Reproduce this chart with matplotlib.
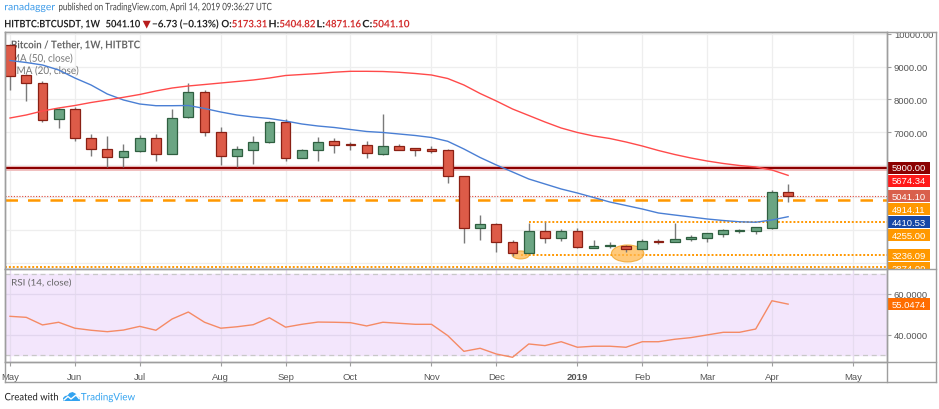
import numpy as np
import pandas as pd
import matplotlib
matplotlib.use('Agg')
import matplotlib.pyplot as plt
from matplotlib.font_manager import FontProperties
from matplotlib.patches import Ellipse, Rectangle, Polygon, PathPatch
from matplotlib.textpath import TextPath
from matplotlib.transforms import Affine2D

plt.rcParams['font.family'] = ['Liberation Sans', 'DejaVu Sans']

# weekly BTC/USDT candles, week of 2018-05-07 .. 2019-04-08
opens = [9671, 8744, 8500, 7389, 7704, 6808, 6472, 6236, 6420, 6808,
         6328, 7450, 8215, 6992, 6258, 6460, 6686, 7298, 6215, 6460,
         6716, 6634, 6594, 6328, 6564, 6490, 6481, 6450, 5665, 4056,
         4187, 3628, 3291, 3964, 3769, 3983, 3463, 3514, 3524, 3423,
         3677, 3628, 3720, 3769, 3891, 3964, 3964, 4065, 5173.31]
highs = [9700, 8780, 8570, 7735, 7756, 6931, 6869, 6625, 6909, 6931,
         7704, 8499, 8294, 7145, 6582, 6869, 7328, 7398, 6480, 6839,
         6827, 6704, 6716, 7551, 6634, 6500, 6582, 6481, 5665, 4463,
         4208, 3707, 4218, 4239, 4035, 4056, 3707, 3628, 3545, 3729,
         3720, 4209, 3850, 3922, 4035, 4035, 4105, 5236, 5404.82]
lows = [8285, 7958, 7316, 7114, 6735, 6276, 5921, 5921, 6398, 6123,
        6328, 7420, 6888, 6001, 5921, 6022, 6660, 6123, 6195, 6123,
        6349, 6460, 6206, 6307, 6440, 6258, 6349, 5432, 3606, 3707,
        3322, 3218, 3291, 3597, 3677, 3460, 3463, 3454, 3322, 3423,
        3567, 3628, 3677, 3652, 3799, 3912, 3882, 4045, 4871.16]
closes = [8723, 8490, 7377, 7704, 6808, 6472, 6246, 6411, 6808, 6328,
          7429, 8215, 7010, 6276, 6481, 6686, 7298, 6215, 6460, 6704,
          6612, 6594, 6350, 6564, 6460, 6460, 6429, 5665, 4065, 4187,
          3628, 3291, 3964, 3769, 3983, 3475, 3524, 3524, 3423, 3658,
          3637, 3729, 3780, 3903, 3995, 3995, 4087, 5157, 5041.10]

ema20 = [9187, 9126, 9050, 8897, 8652, 8438, 8163, 7980, 7857, 7805,
         7805, 7811, 7720, 7612, 7521, 7460, 7414, 7337, 7246, 7184,
         7139, 7077, 7016, 6986, 6940, 6894, 6833, 6717, 6481, 6221,
         5992, 5778, 5564, 5411, 5258, 5135, 4998, 4860, 4753, 4646,
         4524, 4462, 4402, 4341, 4294, 4255, 4241, 4310, 4410.53]
ma50 = [7429, 7521, 7643, 7735, 7811, 7903, 7980, 8062, 8148, 8255,
        8346, 8408, 8453, 8499, 8545, 8591, 8652, 8729, 8759, 8790,
        8830, 8857, 8857, 8851, 8827, 8790, 8744, 8637, 8438, 8178,
        7949, 7704, 7506, 7307, 7123, 6986, 6879, 6802, 6695, 6573,
        6435, 6313, 6206, 6114, 6038, 5976, 5931, 5839, 5674.34]
rsi = [49.1, 48.6, 44.9, 46.2, 43.3, 42.3, 41.6, 42.4, 44.2, 42.3,
       47.8, 51.2, 46.2, 43.3, 44.0, 45.0, 48.4, 43.8, 45.2, 46.3,
       46.2, 46.0, 44.4, 46.2, 45.7, 45.2, 45.2, 39.7, 32.0, 33.5,
       30.7, 29.1, 35.6, 34.8, 36.7, 34.0, 34.5, 34.5, 34.0, 36.7,
       36.7, 37.9, 38.7, 40.0, 41.3, 41.3, 42.9, 56.7, 55.0474]

resistance = 5900.00
breakout = 4914.11
range_top = 4255.00
range_bottom = 3236.09
cycle_low = 2874.00
price_ticks = [7000, 8000, 9000, 10000]

W, H = 939, 410
def fx(px): return px / W
def fy(py): return 1 - py / H

fig = plt.figure(figsize=(W / 100, H / 100), dpi=100)
fig.patch.set_facecolor('white')

# text drawn as paths, squeezed to the width it takes in the screenshot
def ptext(s, x0, x1, ybase, size, color, weight='normal', parent=None, z=10):
    prop = FontProperties(family=['Lato', 'DejaVu Sans'], weight=weight)
    tp = TextPath((0, 0), s, size=size, prop=prop)
    ext = tp.get_extents()
    sx = (x1 - x0) / (ext.x1 - ext.x0)
    tr = Affine2D().translate(-ext.x0, 0).scale(sx, 1).translate(x0, H - ybase)
    p = PathPatch(tp, transform=tr, facecolor=color, edgecolor='none', lw=0, zorder=z)
    (parent or fig).add_artist(p)
    return p

dates = pd.date_range('2018-05-07', periods=53, freq='7D')
xi = np.arange(len(closes))
mstart = [i for i in range(len(dates)) if i == 0 or dates[i].month != dates[i - 1].month]
mlabels = ['2019' if dates[i].month == 1 else dates[i].strftime('%b') for i in mstart]

frame = '#9e9e9e'
gridc = '#eeeeee'
txtc = '#555555'

ax = fig.add_axes([fx(5), fy(270), fx(887) - fx(5), fy(33) - fy(270)])
rx = fig.add_axes([fx(5), fy(363), fx(887) - fx(5), fy(270) - fy(363)])
for a in (ax, rx):
    a.set_xlim(-0.31, 54.1)
    for s in a.spines.values():
        s.set_color(frame)
        s.set_linewidth(1)
    for m in mstart:
        a.axvline(m, color=gridc, lw=0.9, zorder=0)

ax.set_ylim(2811, 10059)
for lv in range(3000, 10001, 1000):
    ax.axhline(lv, color=gridc, lw=0.9, zorder=0)

# candles
up = np.array(closes) >= np.array(opens)
ax.vlines(xi, lows, highs, color='#7a7a7a', lw=1, zorder=3)
bot = np.minimum(opens, closes)
hgt = np.maximum(np.abs(np.array(closes) - np.array(opens)), 40)
ax.bar(xi[up], hgt[up], bottom=bot[up], width=0.6, color='#6ba583',
       edgecolor='#2f5f40', lw=0.9, zorder=4)
ax.bar(xi[~up], hgt[~up], bottom=bot[~up], width=0.6, color='#dd5b48',
       edgecolor='#8a2014', lw=0.9, zorder=4)

ax.plot(xi, ema20, color='#4a7fd4', lw=1, zorder=5)
ax.plot(xi, ma50, color='#ff4a4a', lw=1, zorder=5)

# drawn levels
ax.axhline(resistance, color='#f0c0c0', lw=3.6, zorder=2)
ax.axhline(resistance, color='#8b0000', lw=1.5, zorder=2)
ax.axhline(closes[-1], color='#e0483a', lw=0.8, ls=(0, (1, 1.5)), zorder=2)
ax.axhline(breakout, color='#ff9800', lw=1.8, ls=(0, (5, 4)), zorder=2)
ax.hlines(range_top, 32, 54.1, color='#ff9800', lw=1.4, ls=(0, (1, 1)), zorder=2)
ax.hlines(range_bottom, 31.5, 54.1, color='#ff9800', lw=1.4, ls=(0, (1, 1)), zorder=2)
ax.axhline(cycle_low, color='#ff9800', lw=1.4, ls=(0, (1, 1)), zorder=2)
ax.add_patch(Ellipse((31.5, range_bottom + 5), 1.05, 245, facecolor='#ffb74d',
                     edgecolor='#f0a020', alpha=0.75, lw=0.8, zorder=2))
ax.add_patch(Ellipse((38.1, range_bottom + 50), 2.0, 520, facecolor='#ffb74d',
                     edgecolor='#f0a020', alpha=0.75, lw=0.8, zorder=2))

ax.yaxis.tick_right()
ax.set_yticks(price_ticks)
ax.set_yticklabels(['%.2f' % v for v in price_ticks])
ax.tick_params(axis='y', length=3, color=frame, labelsize=6.8, labelcolor=txtc, pad=2)
ax.set_xticks([])

# legend sits under the candles, as in the screenshot
ptext('Bitcoin / Tether, 1W, HITBTC', 11.7, 140, 49.3, 10.6, '#666666', 'bold', ax, 3.5)
ptext('MA (50, close)', 11.7, 72.3, 62.7, 10.6, '#777777', 'normal', ax, 3.5)
ptext('EMA (20, close)', 11.7, 78.3, 75.0, 10.6, '#777777', 'normal', ax, 3.5)

# RSI panel
rx.set_ylim(26.8, 72.2)
rx.axhspan(30, 70, color='#f3e6fc', zorder=0)
for m in mstart:
    rx.axvline(m, color='#e6dcef', lw=0.9, zorder=1)
for lv in (40, 60):
    rx.axhline(lv, color='#e2d6ee', lw=0.9, zorder=1)
for lv in (30, 70):
    rx.axhline(lv, color='#c8c8c8', lw=0.9, ls=(0, (4, 3)), zorder=1)
rx.plot(xi, rsi, color='#f58a65', lw=1, zorder=3)
rx.yaxis.tick_right()
rx.set_yticks([40, 60])
rx.set_yticklabels(['40.0000', '60.0000'])
rx.tick_params(axis='y', length=3, color=frame, labelsize=6.8, labelcolor=txtc, pad=2)
rx.set_xticks(mstart)
rx.set_xticklabels(mlabels)
rx.tick_params(axis='x', length=3, color=frame, labelsize=6.8, labelcolor=txtc, pad=4)
for lbl in rx.get_xticklabels():
    if lbl.get_text() == '2019':
        lbl.set_fontweight('bold')
ptext('RSI (14, close)', 12, 71, 286.5, 9.0, '#666666', 'normal', rx, 5)

# price tags on the right column
def tag_axes(top, bottom, ylim):
    a = fig.add_axes([fx(887), fy(bottom), fx(936) - fx(887), fy(top) - fy(bottom)])
    a.set_xlim(0, 1)
    a.set_ylim(*ylim)
    a.axis('off')
    return a

pl = tag_axes(33, 270, ax.get_ylim())
tags = [(resistance, '#8b0000'), (ma50[-1], '#ff1a1a'), (closes[-1], '#d9604c'),
        (breakout, '#ff9800'), (ema20[-1], '#1747a6'), (range_top, '#ff9800'),
        (range_bottom, '#ff9800'), (cycle_low, '#ff9800')]
span = ax.get_ylim()[1] - ax.get_ylim()[0]
upx = span / 237.0
gap = 13 * upx
hh = 6 * upx
prev = None
for val, col in sorted(tags, key=lambda t: -t[0]):
    pos = val if prev is None else min(val, prev - gap)
    prev = pos
    pl.add_patch(Rectangle((0, pos - hh), 0.88, 2 * hh, facecolor=col, edgecolor='none'))
    pl.text(0.09, pos, '%.2f' % val, color='white', fontsize=6.8, va='center', ha='left',
            clip_on=True)

rl = tag_axes(270, 363, rx.get_ylim())
rh = 6 * (rx.get_ylim()[1] - rx.get_ylim()[0]) / 93.0
rl.add_patch(Rectangle((0, rsi[-1] - rh), 0.88, 2 * rh, facecolor='#ff6d00', edgecolor='none'))
rl.text(0.09, rsi[-1], '%.4f' % rsi[-1], color='white', fontsize=6.8, va='center', ha='left')

# frame lines
lc = dict(color=frame, lw=1, transform=fig.transFigure)
for yy in (33, 270, 363, 383):
    fig.add_artist(plt.Line2D([fx(5), fx(936)], [fy(yy), fy(yy)], **lc))
for xx in (5, 887, 936):
    fig.add_artist(plt.Line2D([fx(xx), fx(xx)], [fy(33), fy(383)], **lc))

# header
red = '#d32f2f'
dark = '#222222'
ptext('ranadagger', 5, 55, 11.2, 10.2, '#3d9be9')
ptext('published on TradingView.com, April 14, 2019 09:36:27 UTC', 59, 271.7, 11.2, 10.2, '#444444')
line2 = [('HITBTC:BTCUSDT, 1W', dark, 5, 100), ('5041.10', dark, 106, 140),
         ('\u25bc', '#b71c1c', 142.7, 150.7), ('\u22126.73 (\u22120.13%)', dark, 152.7, 218.3),
         ('O:', dark, 221.7, 231.2), ('5173.31', red, 232.2, 266.7),
         ('H:', dark, 269.3, 278.8), ('5404.82', red, 279.8, 315),
         ('L:', dark, 317.3, 324.5), ('4871.16', red, 325.5, 360.7),
         ('C:', dark, 362.7, 371.8), ('5041.10', red, 372.8, 409.3)]
for s, c, a0, a1 in line2:
    ptext(s, a0, a1, 28.3, 10.2, c, 'bold')

# footer
ptext('Created with', 5, 58, 401.3, 10.2, '#222222')
fig.add_artist(Polygon([(fx(63), fy(402)), (fx(63), fy(399)), (fx(65), fy(397)),
                        (fx(67.5), fy(396.5)), (fx(69.5), fy(394)), (fx(72.5), fy(393)),
                        (fx(75.5), fy(394.5)), (fx(77), fy(397)), (fx(79.5), fy(398.5)),
                        (fx(80), fy(402))],
                       closed=True, facecolor='#33a3f0', edgecolor='none',
                       transform=fig.transFigure))
fig.add_artist(plt.Line2D([fx(64), fx(68), fx(71), fx(76), fx(79)],
                          [fy(401), fy(397.5), fy(400), fy(396), fy(399.5)],
                          color='white', lw=1, transform=fig.transFigure))
ptext('TradingView', 81, 135, 401.3, 10.2, '#33a3f0')

fig.savefig('out.png', dpi=100, facecolor='white')
